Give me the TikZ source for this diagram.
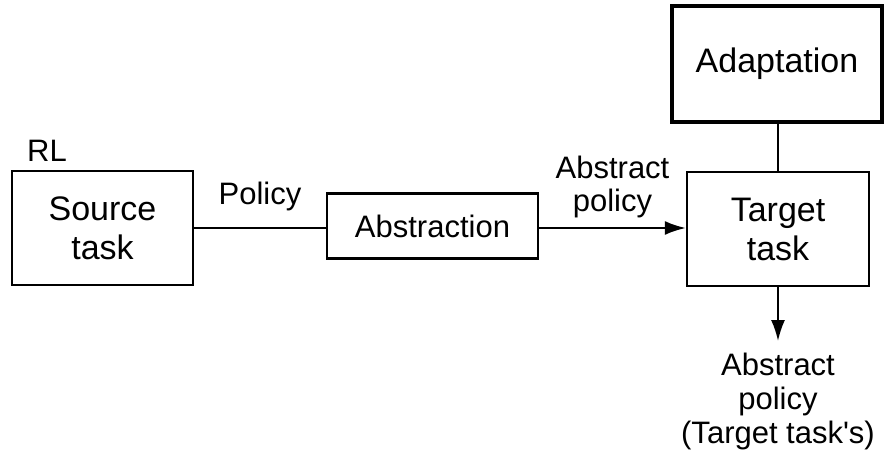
\documentclass[tikz,border=0pt]{standalone}
\usepackage{fontspec}
\setmainfont{Liberation Sans}
\usetikzlibrary{positioning, arrows.meta}

\tikzset{
	taskbox/.style={draw, line width=2.4pt, align=center, inner sep=0pt, font=\fontsize{34}{39}\selectfont},
	conn/.style={line width=2pt},
	flow/.style={conn, -{Latex[length=21pt,width=14pt]}},
	tag/.style={inner sep=0pt, align=center, font=\fontsize{31}{33}\selectfont}
}

\begin{document}
\begin{tikzpicture}[x=1pt, y=-1pt]
		\useasboundingbox (0,0) rectangle (884,457);
		
		% boxes
		\node[taskbox, minimum width=181pt, minimum height=114pt] (source) at (102.5,228) {Source\\task};
		\node[taskbox, minimum width=211pt, minimum height=65pt, font=\fontsize{31}{33}\selectfont] (abstraction) at (432.5,226) {Abstraction};
		\node[taskbox, minimum width=182pt, minimum height=114pt] (target) at (778,229) {Target\\task};
		\node[taskbox, line width=4.5pt, minimum width=210pt, minimum height=116pt] (adaptation) at (777,64) {Adaptation};
		\node[tag, anchor=base] (rl) at (47,162) {RL};
		
		% connectors
		\draw[conn] (source.east |- 0,228) -- (abstraction.west |- 0,228) node[tag, midway, above=16pt] (policy) {Policy};
		\draw[flow] (abstraction.east |- 0,228) -- (target.west |- 0,228) node[tag, midway, above=9pt] (abspolicy) {Abstract\\policy};
		\draw[conn] (adaptation.south -| target) -- (target);
		\coordinate (out) at (778,341);
		\draw[flow] (target) -- (out);
		\node[tag, below=12pt of out, font=\fontsize{31}{34}\selectfont] (result) {Abstract\\policy\\(Target task\textquotesingle s)};
\end{tikzpicture}
\end{document}
